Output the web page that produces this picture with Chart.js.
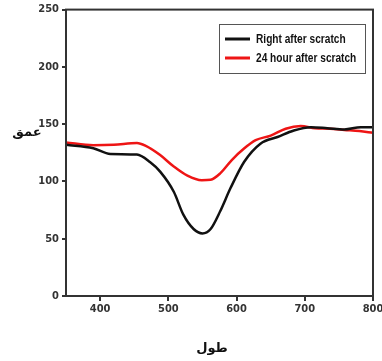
<!DOCTYPE html>
<html>
<head>
<meta charset="utf-8">
<script src="https://cdn.jsdelivr.net/npm/chart.js@4/dist/chart.umd.min.js"></script>
<style>
  html, body { margin: 0; padding: 0; background: #fff; }
  #wrap { width: 382px; height: 361px; }
</style>
</head>
<body>
<div id="wrap"><canvas id="depthChart"></canvas></div>
<script>
// values
var xRight = [350, 390, 415, 454, 473, 488, 508, 522, 537, 550, 562, 576, 591, 611, 635, 660, 684, 709, 733, 758, 782, 800];
var yRight = [132, 129, 124, 123.5, 117, 108.6, 91, 71, 58.5, 54.6, 58.5, 74, 94, 117, 133, 138.8, 144.5, 147.4, 146.5, 145.4, 147.4, 147.4];
var x24h = [350, 390, 420, 454, 467, 488, 508, 528, 549, 562, 576, 593, 611, 628, 650, 672, 694, 715, 737, 758, 780, 800];
var y24h = [134, 131.6, 132, 133.6, 131, 123, 113, 105, 101, 101.4, 107, 118.7, 128.7, 136, 140, 146, 148.3, 146.5, 146, 145, 144, 142.5];
var xTicks = [400, 500, 600, 700, 800];
var seriesNames = ['Right after scratch', '24 hour after scratch'];
var xTitle = 'طول';
var yTitle = 'عمق';

function pts(xs, ys) {
    return xs.map(function (x, i) { return { x: x, y: ys[i] }; });
}

var axisColor = '#333333';
var tickFont = { family: 'DejaVu Sans Condensed, Liberation Sans, sans-serif', size: 11, weight: 'bold' };

// frame, legend box and the two axis titles
var extras = {
    id: 'extras',
    afterDraw: function (chart) {
        var ctx = chart.ctx;
        var a = chart.chartArea;
        ctx.save();
        ctx.strokeStyle = axisColor;
        ctx.lineWidth = 2;
        ctx.strokeRect(a.left, a.top, a.right - a.left, a.bottom - a.top);

        // legend
        var bx = 219, by = 24, bw = 146, bh = 49;
        ctx.lineWidth = 1;
        ctx.strokeStyle = '#555';
        ctx.strokeRect(bx + 0.5, by + 0.5, bw, bh);
        chart.data.datasets.forEach(function (ds, i) {
            var ly = by + 15 + i * 19;
            ctx.strokeStyle = ds.borderColor;
            ctx.lineWidth = 3;
            ctx.beginPath();
            ctx.moveTo(bx + 6, ly);
            ctx.lineTo(bx + 31, ly);
            ctx.stroke();
            ctx.save();
            ctx.translate(bx + 37, ly);
            ctx.scale(0.78, 1);
            ctx.font = 'bold 13px "Liberation Sans", sans-serif';
            ctx.textBaseline = 'middle';
            ctx.fillStyle = '#111';
            ctx.fillText(ds.label, 0, 0);
            ctx.restore();
        });

        ctx.font = 'bold 13px "DejaVu Sans", sans-serif';
        ctx.textAlign = 'center';
        ctx.textBaseline = 'middle';
        ctx.fillStyle = '#111';
        ctx.fillText(yTitle, 27, 133);
        ctx.fillText(xTitle, 212, 349);
        ctx.restore();
    }
};

var ctx = document.getElementById('depthChart').getContext('2d');
var depthChart = new Chart(ctx, {
    type: 'line',
    data: {
        datasets: [{
            label: seriesNames[0],
            data: pts(xRight, yRight),
            borderColor: '#111111',
            borderWidth: 2.5,
            pointRadius: 0,
            tension: 0.4,
            cubicInterpolationMode: 'monotone'
        }, {
            label: seriesNames[1],
            data: pts(x24h, y24h),
            borderColor: '#ee1515',
            borderWidth: 2.5,
            pointRadius: 0,
            tension: 0.4,
            cubicInterpolationMode: 'monotone'
        }]
    },
    options: {
        responsive: true,
        maintainAspectRatio: false,
        animation: false,
        layout: { padding: { top: 6, right: 9, left: 0, bottom: 0 } },
        plugins: {
            legend: { display: false },
            tooltip: { enabled: false }
        },
        scales: {
            x: {
                type: 'linear',
                min: 350,
                max: 800,
                afterBuildTicks: function (scale) {
                    scale.ticks = xTicks.map(function (v) { return { value: v }; });
                },
                afterFit: function (scale) {
                    scale.height = 65;
                    scale.paddingRight = 0;
                    scale.paddingLeft = 0;
                },
                grid: { drawOnChartArea: false, tickLength: 5, color: axisColor, lineWidth: 2 },
                border: { display: false },
                ticks: { color: '#333', font: tickFont, padding: 2 }
            },
            y: {
                min: 0,
                max: 250,
                afterFit: function (scale) { scale.width = 66; },
                grid: { drawOnChartArea: false, tickLength: 4, color: axisColor, lineWidth: 2 },
                border: { display: false },
                ticks: { stepSize: 50, color: '#333', font: tickFont, padding: 3 }
            }
        }
    },
    plugins: [extras]
});
</script>
</body>
</html>
